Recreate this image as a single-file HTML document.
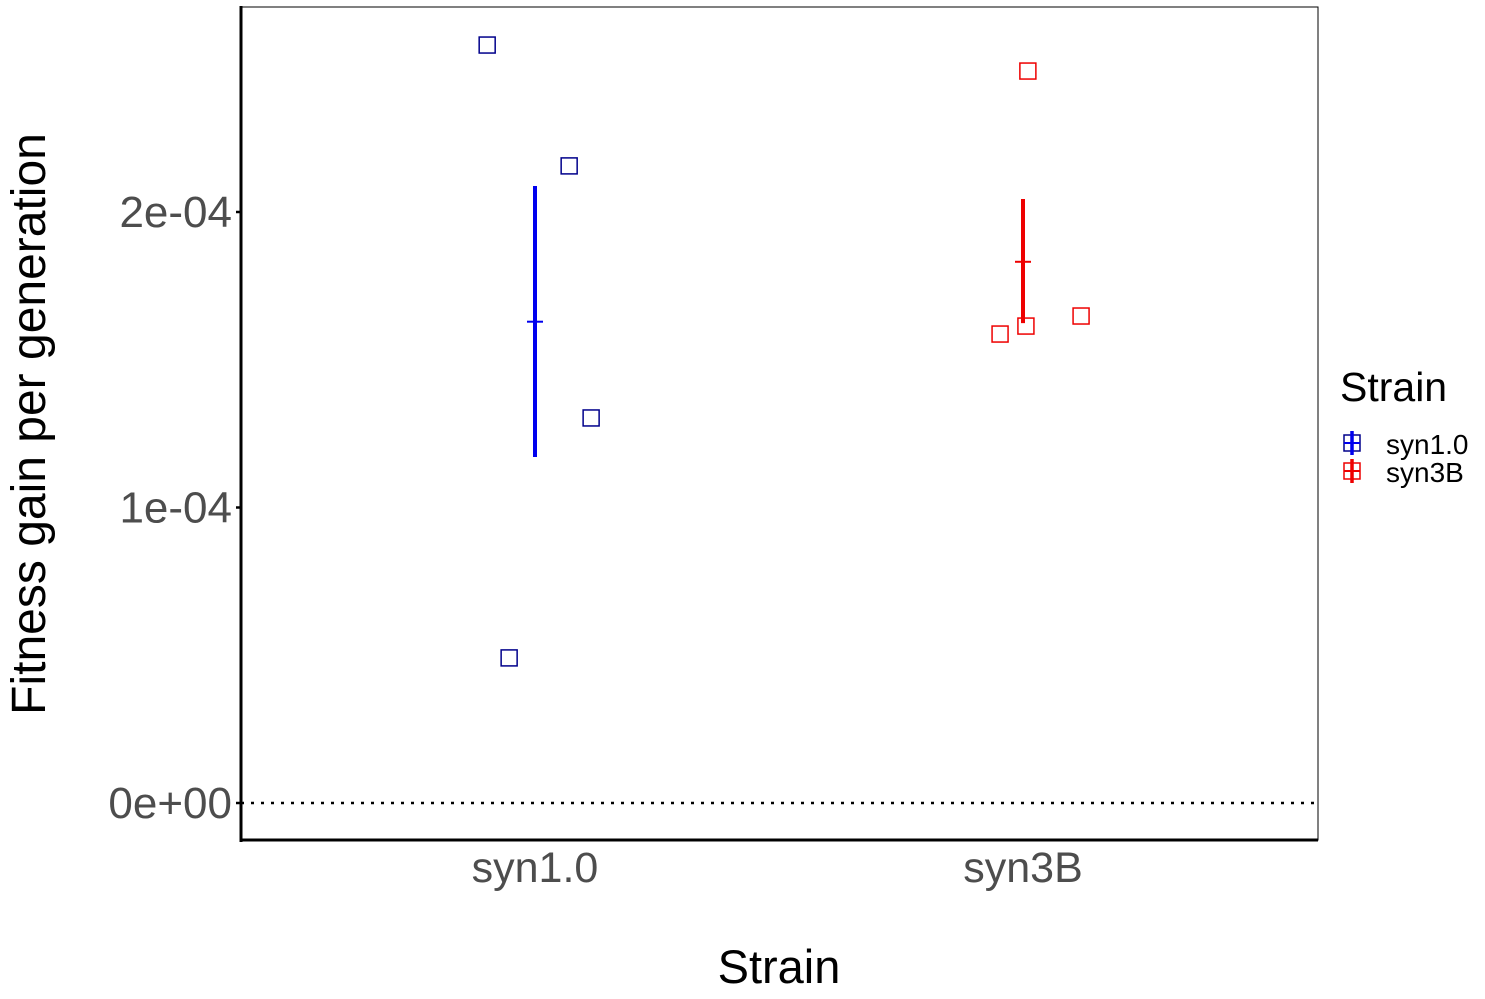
<!DOCTYPE html>
<html><head><meta charset="utf-8"><style>
html,body{margin:0;padding:0;background:#fff;}
svg{display:block;font-family:"Liberation Sans",Arial,sans-serif;}
</style></head><body>
<svg id="chart" width="1485" height="999" viewBox="0 0 1485 999">
<rect x="0" y="0" width="1485" height="999" fill="#fff"/>
<rect x="241" y="7" width="1077" height="833" fill="none" stroke="#000" stroke-width="1"/>
<g id="marks"></g>
<line x1="241" y1="6" x2="241" y2="842" stroke="#000" stroke-width="3"/>
<line x1="240" y1="840" x2="1318" y2="840" stroke="#000" stroke-width="3"/>
<g id="yticks"></g>
<g id="xticks"></g>
<text x="779" y="983" font-size="47" text-anchor="middle" fill="#000">Strain</text>
<text transform="translate(45,424) rotate(-90)" font-size="48" text-anchor="middle" fill="#000">Fitness gain per generation</text>
<g>
<text x="1340" y="401" font-size="41" fill="#000">Strain</text>
<g>
<rect x="1344" y="435" width="16" height="16" fill="none" stroke="#00008B" stroke-width="1.5"/>
<line x1="1352" y1="431" x2="1352" y2="455" stroke="#0000EE" stroke-width="3.5"/>
<line x1="1344" y1="443" x2="1360" y2="443" stroke="#0000EE" stroke-width="2"/>
<text x="1386" y="454" font-size="28" fill="#000">syn1.0</text>
</g>
<g>
<rect x="1344" y="463" width="16" height="16" fill="none" stroke="#EE0000" stroke-width="1.5"/>
<line x1="1352" y1="459" x2="1352" y2="483" stroke="#EE0000" stroke-width="3.5"/>
<line x1="1344" y1="471" x2="1360" y2="471" stroke="#EE0000" stroke-width="2"/>
<text x="1386" y="482" font-size="28" fill="#000">syn3B</text>
</g>
</g>
</svg>
<script>
const categories = ["syn1.0", "syn3B"];
const syn10Values = [2.565e-4, 2.156e-4, 1.303e-4, 0.491e-4];
const syn10Jitter = [-0.098, 0.070, 0.115, -0.053];
const syn3BValues = [2.477e-4, 1.587e-4, 1.614e-4, 1.648e-4];
const syn3BJitter = [0.010, -0.047, 0.006, 0.119];
const errLow = [1.171e-4, 1.624e-4];
const errHigh = [2.088e-4, 2.044e-4];
const yTicks = [0, 1e-4, 2e-4];
const yTickLabels = ["0e+00", "1e-04", "2e-04"];

const NS = "http://www.w3.org/2000/svg";
const y = v => 803 - v * 2955000;
const x = i => 535 + i * 488;
const colsPt = ["#00008B", "#EE0000"];
const colsBar = ["#0000EE", "#EE0000"];
function mk(tag, attrs, parent) {
  const e = document.createElementNS(NS, tag);
  for (const k in attrs) e.setAttribute(k, attrs[k]);
  parent.appendChild(e);
  return e;
}
const marks = document.getElementById("marks");
const z = mk("line", {x1: 241, x2: 1318, y1: y(0), y2: y(0), stroke: "#000", "stroke-width": 2.5, "stroke-dasharray": "3,7"}, marks);



const series = [[syn10Values, syn10Jitter], [syn3BValues, syn3BJitter]];
series.forEach((s, ci) => {
  const [vals, jit] = s;
  const mean = vals.reduce((a, b) => a + b, 0) / vals.length;
  const eb = mk("line", {x1: x(ci), x2: x(ci), y1: y(errLow[ci]), y2: y(errHigh[ci]), stroke: colsBar[ci], "stroke-width": 4}, marks);
  
  
  const m = mk("line", {x1: x(ci) - 8, x2: x(ci) + 8, y1: y(mean), y2: y(mean), stroke: colsBar[ci], "stroke-width": 2}, marks);
  
  
  vals.forEach((v, i) => {
    const p = mk("rect", {x: x(ci + jit[i]) - 8, y: y(v) - 8, width: 16, height: 16, fill: "none", stroke: colsPt[ci], "stroke-width": 1.5}, marks);
    
    
  });
});

const yt = document.getElementById("yticks");
yTicks.forEach((t, i) => {
  const l = mk("line", {x1: 236, x2: 241, y1: y(t), y2: y(t), stroke: "#000", "stroke-width": 2.5}, yt);
  
  
  const tx = mk("text", {x: 232, y: y(t) + 15, "font-size": 44, "text-anchor": "end", fill: "#4D4D4D"}, yt);
  tx.textContent = yTickLabels[i];
  
  
});
const xt = document.getElementById("xticks");
categories.forEach((c, i) => {
  const tx = mk("text", {x: x(i), y: 882, "font-size": 43, "text-anchor": "middle", fill: "#4D4D4D"}, xt);
  tx.textContent = c;
  
  
});
</script>
</body></html>
